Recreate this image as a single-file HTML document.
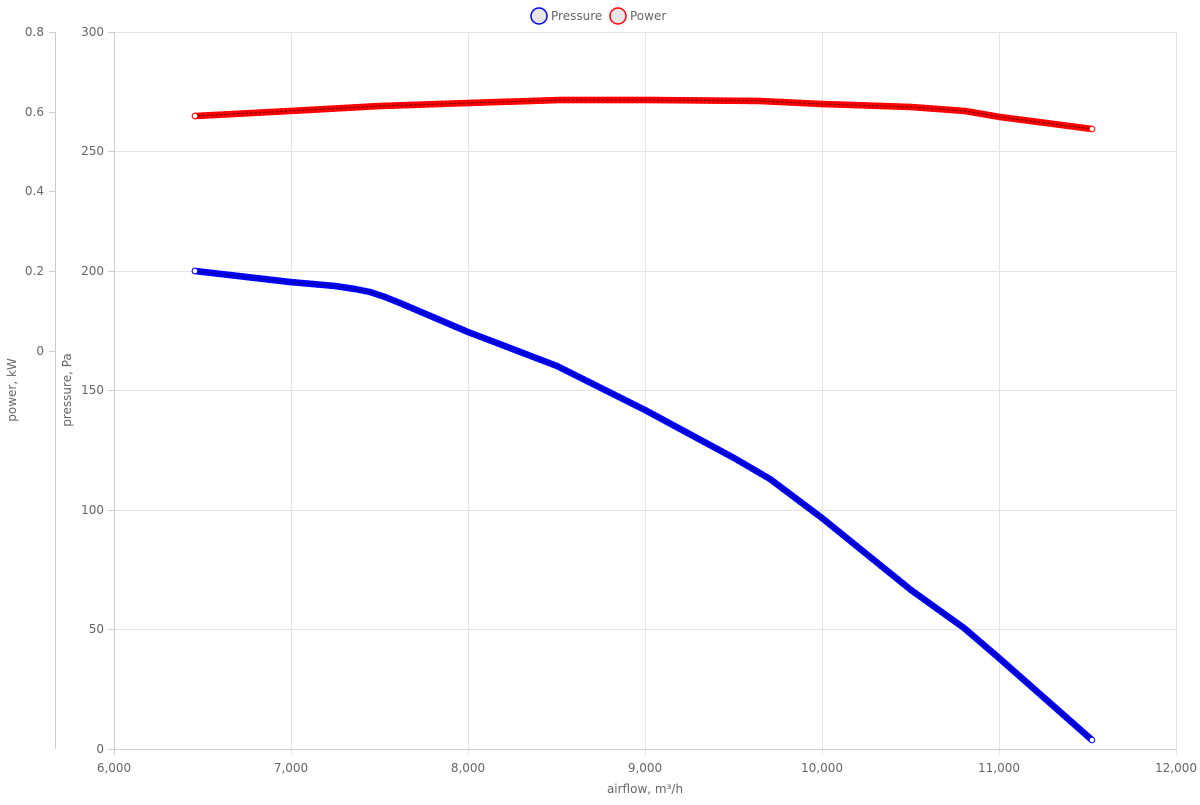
<!DOCTYPE html>
<html><head><meta charset="utf-8"><style>
body{margin:0;background:#fff;font-family:"Liberation Sans","DejaVu Sans",sans-serif}
text{font-family:"DejaVu Sans","Liberation Sans",sans-serif;font-size:12px;fill:#666}
</style></head><body>
<svg id="s" width="1200" height="800" xmlns="http://www.w3.org/2000/svg">
<g stroke="#e4e4e4" stroke-width="1">
<line x1="114" y1="32.5" x2="1176" y2="32.5"/><line x1="114" y1="151.5" x2="1176" y2="151.5"/>
<line x1="114" y1="271.5" x2="1176" y2="271.5"/><line x1="114" y1="390.5" x2="1176" y2="390.5"/>
<line x1="114" y1="510.5" x2="1176" y2="510.5"/><line x1="114" y1="629.5" x2="1176" y2="629.5"/>
<line x1="291.5" y1="32" x2="291.5" y2="755"/><line x1="468.5" y1="32" x2="468.5" y2="755"/>
<line x1="645.5" y1="32" x2="645.5" y2="755"/><line x1="822.5" y1="32" x2="822.5" y2="755"/>
<line x1="999.5" y1="32" x2="999.5" y2="755"/><line x1="1176.5" y1="32" x2="1176.5" y2="755"/>
</g>
<g stroke="#ccc"><line x1="114.5" y1="32" x2="114.5" y2="755"/><line x1="108" y1="749.5" x2="1176" y2="749.5"/>
<line x1="55.5" y1="32" x2="55.5" y2="749"/>
<line x1="108" y1="32.5" x2="114" y2="32.5"/><line x1="108" y1="151.5" x2="114" y2="151.5"/><line x1="108" y1="271.5" x2="114" y2="271.5"/><line x1="108" y1="390.5" x2="114" y2="390.5"/><line x1="108" y1="510.5" x2="114" y2="510.5"/><line x1="108" y1="629.5" x2="114" y2="629.5"/>
<line x1="49" y1="32.5" x2="55" y2="32.5"/><line x1="49" y1="112.5" x2="55" y2="112.5"/><line x1="49" y1="191.5" x2="55" y2="191.5"/><line x1="49" y1="271.5" x2="55" y2="271.5"/><line x1="49" y1="351.5" x2="55" y2="351.5"/>
</g>
<g text-anchor="end">
<text x="104" y="36">300</text><text x="104" y="155">250</text><text x="104" y="275">200</text><text x="104" y="394">150</text><text x="104" y="514">100</text><text x="104" y="633">50</text><text x="104" y="753">0</text>
<text x="44" y="36">0.8</text><text x="44" y="116">0.6</text><text x="44" y="195">0.4</text><text x="44" y="275">0.2</text><text x="44" y="355">0</text>
</g>
<g text-anchor="middle">
<text x="114" y="772">6,000</text><text x="291" y="772">7,000</text><text x="468" y="772">8,000</text><text x="645" y="772">9,000</text><text x="822" y="772">10,000</text><text x="999" y="772">11,000</text><text x="1176" y="772">12,000</text>
<text x="645" y="793">airflow, m³/h</text>
<text transform="translate(16,390) rotate(-90)">power, kW</text>
<text transform="translate(71,390) rotate(-90)">pressure, Pa</text>
</g>
<circle cx="539" cy="16" r="8" fill="#e6e6e6" stroke="blue" stroke-width="1.5"/>
<text x="551" y="20">Pressure</text>
<circle cx="618" cy="16" r="8" fill="#e6e6e6" stroke="red" stroke-width="1.5"/>
<text x="630" y="20">Power</text>
<g id="g"></g>
</svg>
<script>
var P=[[195,271],[290,282],[335,286],[355,289],[370,292],[385,297],[400,303],[468,332],[557,366],[645,410],[734,458],[770,479],[822,518],[911,590],[964,628],[999,658],[1092,740]];
var W=[[195,116],[290,111],[380,106],[468,103],[560,100],[650,100],[760,101],[822,104],[911,107],[965,111],[1000,117],[1092,129]];
var g=document.getElementById('g'),ns='http://www.w3.org/2000/svg';
function draw(pts,col){
 var pl=document.createElementNS(ns,'polyline');
 pl.setAttribute('points',pts.map(p=>p.join(',')).join(' '));
 pl.setAttribute('fill','none');pl.setAttribute('stroke',col);pl.setAttribute('stroke-width','6.5');pl.setAttribute('stroke-linejoin','round');
 g.appendChild(pl);
 var l2=pl.cloneNode();l2.setAttribute('stroke','#000');l2.setAttribute('stroke-width','1.2');l2.setAttribute('opacity','0.6');g.appendChild(l2);
 for(var i=0;i<pts.length-1;i++){var a=pts[i],b=pts[i+1],n=Math.max(1,Math.round((b[0]-a[0])/4.3));
  for(var k=0;k<n;k++){var t=k/n,c=document.createElementNS(ns,'circle');
   c.setAttribute('cx',a[0]+(b[0]-a[0])*t);c.setAttribute('cy',a[1]+(b[1]-a[1])*t);c.setAttribute('r','2.8');
   c.setAttribute('fill','none');c.setAttribute('stroke',col);c.setAttribute('stroke-width','1');g.appendChild(c);}}
 var e=pts[pts.length-1],c=document.createElementNS(ns,'circle');c.setAttribute('cx',e[0]);c.setAttribute('cy',e[1]);c.setAttribute('r','2.8');c.setAttribute('fill','#fff');c.setAttribute('stroke',col);g.appendChild(c);
 var s=pts[0],c2=c.cloneNode();c2.setAttribute('cx',s[0]);c2.setAttribute('cy',s[1]);g.appendChild(c2);
}
draw(P,'blue');draw(W,'red');
</script>
</body></html>
